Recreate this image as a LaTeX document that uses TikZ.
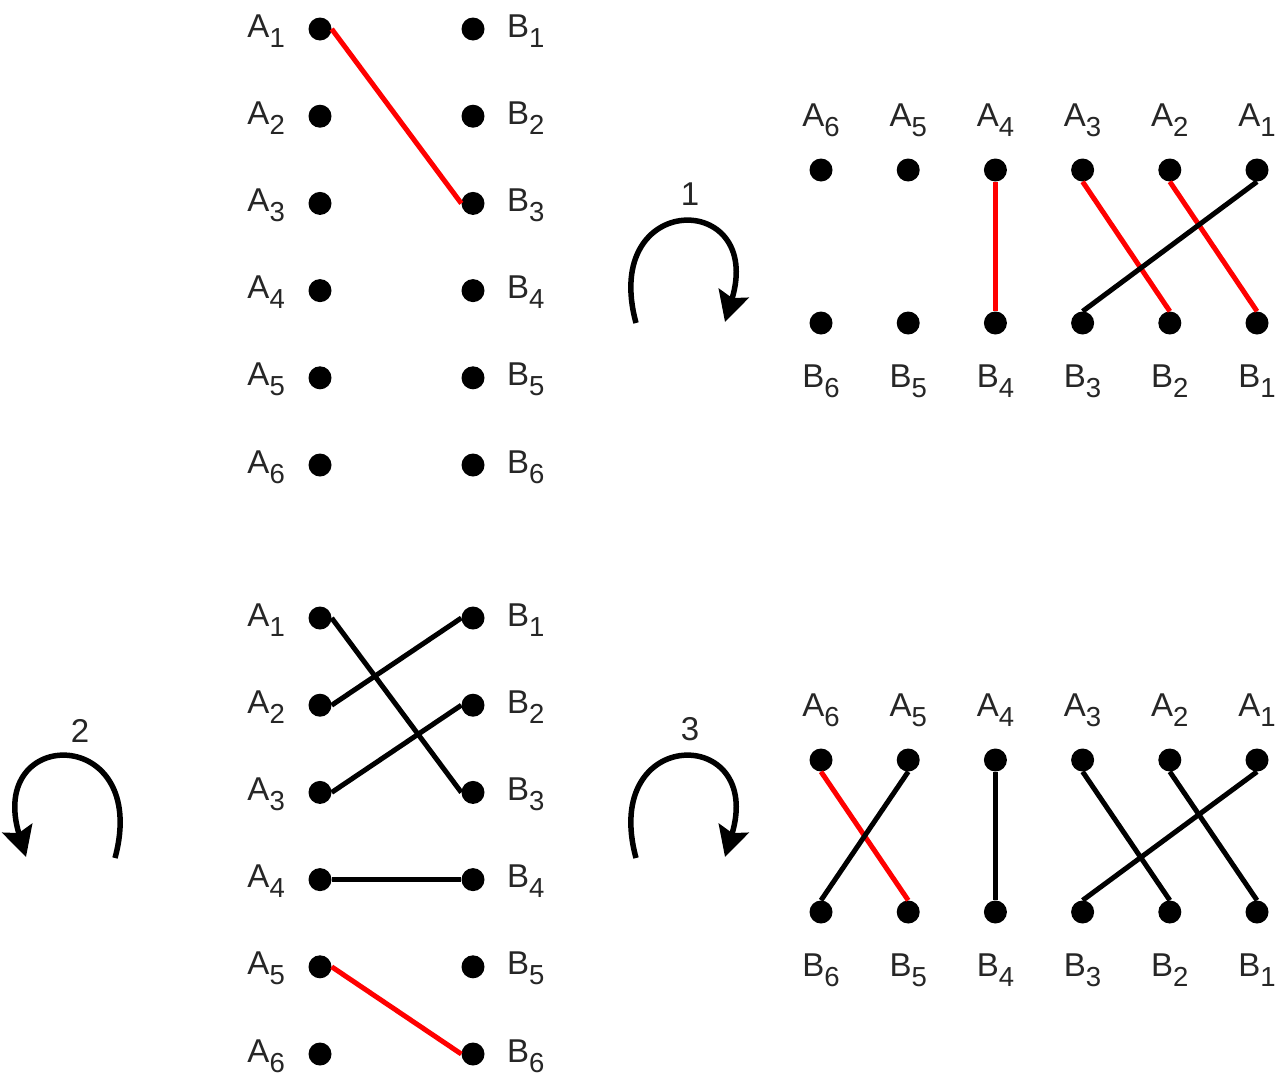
\documentclass[tikz,border=0pt]{standalone}
\usepackage{fontspec}
\setmainfont{Liberation Sans}
\usetikzlibrary{arrows.meta}
\newcommand\lbl[2]{#1\raisebox{-10pt}{\fontsize{27.5}{27.5}\selectfont #2}}
\begin{document}
\begin{tikzpicture}[x=1pt,y=-1pt,
  dot/.style={circle,fill=black,inner sep=0pt,minimum size=23pt},
  lab/.style={inner sep=0pt,font=\fontsize{33}{33}\selectfont,text=black!85},
  edge/.style={line width=5pt},
  hot/.style={edge,draw=red},
  cold/.style={edge,draw=black},
  turn/.style={line width=5.5pt,-{Stealth[length=30pt,width=31pt,inset=5pt]}}]
\useasboundingbox[fill=white] (0,0) rectangle (1287,1074);

% left panels (vertical columns)
\foreach \p/\yo in {p/29, q/618} {
  \foreach \i in {1,...,6} {
    \pgfmathsetmacro\yy{\yo+87.2*(\i-1)}
    \node[dot] (\p A\i) at (320,\yy) {};
    \node[dot] (\p B\i) at (473,\yy) {};
    \node[lab,anchor=base east] (\p LA\i) at (285,\yy+8) {\lbl{A}{\i}};
    \node[lab,anchor=base west] (\p LB\i) at (507,\yy+8) {\lbl{B}{\i}};
  }
}

% right panels (horizontal rows)
\foreach \p/\yt/\yb in {r/170/323, s/760/912} {
  \foreach \i in {1,...,6} {
    \pgfmathsetmacro\xx{821+87.2*(6-\i)}
    \node[dot] (\p A\i) at (\xx,\yt) {};
    \node[dot] (\p B\i) at (\xx,\yb) {};
    \node[lab,anchor=base] (\p LA\i) at (\xx,\yt-44) {\lbl{A}{\i}};
    \node[lab,anchor=base] (\p LB\i) at (\xx,\yb+64) {\lbl{B}{\i}};
  }
}

% connectors, top-left
\draw[hot] (pA1.east) -- (pB3.west);

% connectors, top-right
\draw[hot] (rA4.south) -- (rB4.north);
\draw[hot] (rA3.south) -- (rB2.north);
\draw[hot] (rA2.south) -- (rB1.north);
\draw[cold] (rA1.south) -- (rB3.north);

% connectors, bottom-left
\draw[cold] (qA1.east) -- (qB3.west);
\draw[cold] (qA2.east) -- (qB1.west);
\draw[cold] (qA3.east) -- (qB2.west);
\draw[cold] (qA4.east) -- (qB4.west);
\draw[hot] (qA5.east) -- (qB6.west);

% connectors, bottom-right
\draw[hot] (sA6.south) -- (sB5.north);
\draw[cold] (sA5.south) -- (sB6.north);
\draw[cold] (sA4.south) -- (sB4.north);
\draw[cold] (sA3.south) -- (sB2.north);
\draw[cold] (sA2.south) -- (sB1.north);
\draw[cold] (sA1.south) -- (sB3.north);

% turning arrows
\coordinate (s1) at (636,323);
\coordinate (e1) at (725,322);
\draw[turn] (s1) .. controls (600,190) and (765,190) .. (e1);
\node[lab,anchor=base] (n1) at (690,205) {1};

\coordinate (s3) at (636,858);
\coordinate (e3) at (725,857);
\draw[turn] (s3) .. controls (600,725) and (765,725) .. (e3);
\node[lab,anchor=base] (n3) at (690,740) {3};

\coordinate (s2) at (115,858);
\coordinate (e2) at (26,857);
\draw[turn] (s2) .. controls (151,725) and (-14,725) .. (e2);
\node[lab,anchor=base] (n2) at (80,742) {2};
\end{tikzpicture}
\end{document}
